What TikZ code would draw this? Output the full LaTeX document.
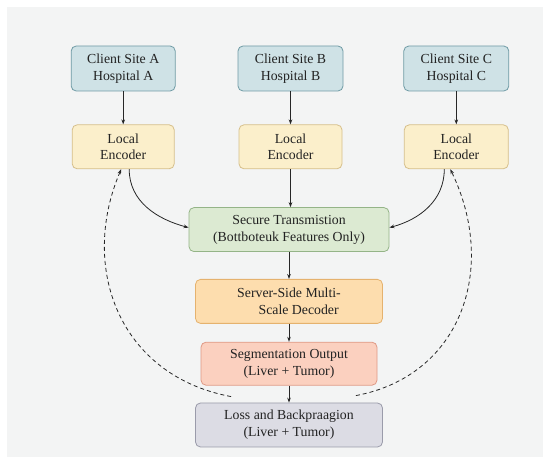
\documentclass[tikz,border=0pt]{standalone}
\usepackage{fontspec}
\setmainfont{Liberation Serif}
\usepackage{tikz}
\usetikzlibrary{arrows.meta,positioning,calc}
\definecolor{fedbg}{HTML}{F3F4F4}
\definecolor{fedtext}{HTML}{222222}
\definecolor{fedteal}{HTML}{CFE2E6}
\definecolor{fedtealdk}{HTML}{6F9BA5}
\definecolor{fedsand}{HTML}{FBEFCB}
\definecolor{fedsanddk}{HTML}{D6BF8A}
\definecolor{fedgreen}{HTML}{DCEAD2}
\definecolor{fedgreendk}{HTML}{94B487}
\definecolor{fedorange}{HTML}{FDDDAE}
\definecolor{fedorangedk}{HTML}{E5B26E}
\definecolor{fedsalmon}{HTML}{FBD0BF}
\definecolor{fedsalmondk}{HTML}{DF9985}
\definecolor{fedgrey}{HTML}{DCDCE4}
\definecolor{fedgreydk}{HTML}{9A9BAA}

\begin{document}
\begin{tikzpicture}[
    x=1pt, y=1pt,
    every node/.style={align=center, font=\fontsize{13.8}{16.7}\selectfont, text=fedtext},
    box/.style={draw, rounded corners=5pt, line width=0.8pt, minimum height=44pt, inner sep=2pt},
    arrow/.style={-{Stealth[length=5pt, width=3.6pt]}, line width=0.8pt, black!85},
    feedback/.style={arrow, dash pattern=on 4pt off 3pt}
]
    % canvas
    \useasboundingbox (0,0) rectangle (550,464);
    \fill[white] (0,0) rectangle (550,464);
    \fill[fedbg] (7,7) rectangle (543,457);

    % client sites
    \node[box, fill=fedteal, draw=fedtealdk, minimum width=105pt, minimum height=45pt] (siteB) at (290.5,395.5) {Client Site B\\Hospital B};
    \node[box, fill=fedteal, draw=fedtealdk, minimum width=104pt, minimum height=45pt, left=62pt of siteB] (siteA) {Client Site A\\Hospital A};
    \node[box, fill=fedteal, draw=fedtealdk, minimum width=105pt, minimum height=45pt, right=60pt of siteB] (siteC) {Client Site C\\Hospital C};

    % local encoders
    \node[box, fill=fedsand, draw=fedsanddk, minimum width=102pt, below=33pt of siteA] (encA) {Local\\Encoder};
    \node[box, fill=fedsand, draw=fedsanddk, minimum width=103pt, below=33pt of siteB] (encB) {Local\\Encoder};
    \node[box, fill=fedsand, draw=fedsanddk, minimum width=104pt, below=33pt of siteC] (encC) {Local\\Encoder};

    % server pipeline
    \node[box, fill=fedgreen, draw=fedgreendk, minimum width=200pt, below=38pt of encB, xshift=-1.5pt] (secure) {Secure Transmistion\\(Bottboteuk Features Only)};
    \node[box, fill=fedorange, draw=fedorangedk, minimum width=187pt, below=27pt of secure] (decoder) {Server-Side Multi-\\\hspace*{1.4em}Scale Decoder};
    \node[box, fill=fedsalmon, draw=fedsalmondk, minimum width=176pt, minimum height=43pt, below=18pt of decoder] (segout) {Segmentation Output\\(Liver + Tumor)};
    \node[box, fill=fedgrey, draw=fedgreydk, minimum width=187pt, below=17pt of segout] (loss) {Loss and Backpraagion\\(Liver + Tumor)};

    % feedback start points
    \coordinate (backA) at ($(loss.north west)+(36,6)$);
    \coordinate (backC) at ($(loss.north east)+(-27,7)$);

    \draw[arrow] (siteA) -- (encA);
    \draw[arrow] (siteB) -- (encB);
    \draw[arrow] (siteC) -- (encC);
    \draw[arrow] ([xshift=6pt]encA.south) to[out=-90, in=165] ([yshift=2pt]secure.west);
    \draw[arrow] (encB) -- (encB |- secure.north);
    \draw[arrow] ([xshift=-12pt]encC.south) to[out=-90, in=15] ([yshift=2pt]secure.east);
    \draw[arrow] (secure) -- (decoder);
    \draw[arrow] (decoder) -- (segout);
    \draw[arrow] (segout) -- (loss);

    % backpropagation
    \draw[feedback] (backA) .. controls ($(backA)+(-112,21)$) and ($(backA)+(-152,129)$) .. ([xshift=-2pt]encA.south);
    \draw[feedback] (backC) .. controls ($(backC)+(106,20)$) and ($(backC)+(142,128)$) .. ([xshift=-6pt]encC.south);
\end{tikzpicture}
\end{document}
